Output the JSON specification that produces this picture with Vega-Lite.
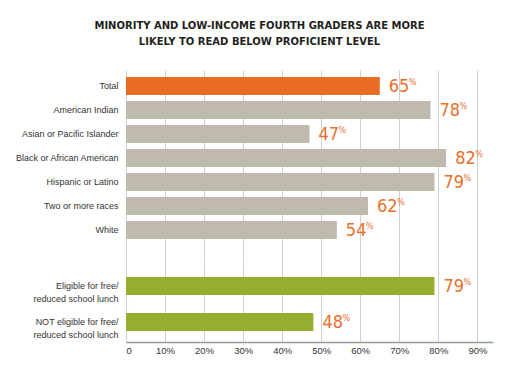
{
  "$schema": "https://vega.github.io/schema/vega-lite/v6.json",
  "background": "white",
  "padding": {"left": 14, "top": 20, "right": 5, "bottom": 5},
  "title": {
    "text": ["MINORITY AND LOW-INCOME FOURTH GRADERS ARE MORE", "LIKELY TO READ BELOW PROFICIENT LEVEL"],
    "font": "DejaVu Sans",
    "fontSize": 10,
    "fontWeight": "bold",
    "color": "#231f20",
    "lineHeight": 16.5,
    "anchor": "middle",
    "dx": 6,
    "offset": 23
  },
  "datasets": {
    "d": [
      {"category": "Total", "pct": 65, "type": "total", "panel": "race"},
      {"category": "American Indian", "pct": 78, "type": "race", "panel": "race"},
      {"category": "Asian or Pacific Islander", "pct": 47, "type": "race", "panel": "race"},
      {"category": "Black or African American", "pct": 82, "type": "race", "panel": "race"},
      {"category": "Hispanic or Latino", "pct": 79, "type": "race", "panel": "race"},
      {"category": "Two or more races", "pct": 62, "type": "race", "panel": "race"},
      {"category": "White", "pct": 54, "type": "race", "panel": "race"},
      {"category": "Eligible for free/reduced school lunch", "pct": 79, "type": "lunch", "panel": "lunch"},
      {"category": "NOT eligible for free/reduced school lunch", "pct": 48, "type": "lunch", "panel": "lunch"}
    ]
  },
  "spacing": 0,
  "vconcat": [
    {
      "width": 367,
      "height": 189,
      "data": {"name": "d"},
      "transform": [{"filter": "datum.panel == 'race'"}],
      "encoding": {
        "y": {
          "field": "category", "type": "nominal", "sort": null,
          "scale": {"paddingInner": 0.25, "paddingOuter": 0.5625, "align": 0.26},
          "axis": {"title": null, "ticks": false, "domain": false, "labelFont": "Liberation Sans", "labelFontSize": 9, "labelColor": "#333333", "labelPadding": 8, "labelLimit": 200, "minExtent": 112, "maxExtent": 112}
        },
        "x": {
          "field": "pct", "type": "quantitative",
          "scale": {"domain": [0, 94], "nice": false},
          "axis": {"title": null, "labels": false, "ticks": false, "domain": false, "values": [0, 10, 20, 30, 40, 50, 60, 70, 80, 90], "grid": true, "gridColor": "#d0d0d0", "gridWidth": 1}
        }
      },
      "layer": [
        {
          "mark": {"type": "bar"},
          "encoding": {
            "color": {"field": "type", "type": "nominal", "scale": {"domain": ["total", "race", "lunch"], "range": ["#E86C22", "#C0B9AE", "#94AF2D"]}, "legend": null}
          }
        },
        {
          "mark": {"type": "text", "align": "left", "baseline": "middle", "dx": 9, "dy": 1, "font": "'DejaVu Sans Condensed', Roboto, sans-serif", "fontSize": 18, "color": "#E8702A"},
          "encoding": {"text": {"field": "pct", "type": "quantitative"}}
        },
        {
          "mark": {"type": "text", "align": "left", "baseline": "middle", "dx": 29, "dy": -4, "font": "'DejaVu Sans Condensed', Roboto, sans-serif", "fontSize": 9, "color": "#E8702A"},
          "encoding": {"text": {"value": "%"}}
        }
      ]
    },
    {
      "width": 367,
      "height": 83,
      "data": {"name": "d"},
      "transform": [{"filter": "datum.panel == 'lunch'"}],
      "encoding": {
        "y": {
          "field": "category", "type": "nominal", "sort": null,
          "scale": {"paddingInner": 0.5, "paddingOuter": 0.403, "align": 0.62},
          "axis": {"title": null, "ticks": false, "domain": false, "labelFont": "Liberation Sans", "labelFontSize": 9, "labelColor": "#333333", "labelPadding": 8, "labelLimit": 200, "labelLineHeight": 13, "minExtent": 112, "maxExtent": 112,
            "labelExpr": "indexof(datum.label, '/') > 0 ? [substring(datum.label, 0, indexof(datum.label, '/') + 1), substring(datum.label, indexof(datum.label, '/') + 1)] : datum.label"}
        },
        "x": {
          "field": "pct", "type": "quantitative",
          "scale": {"domain": [0, 94], "nice": false},
          "axis": {"title": null, "ticks": false, "domain": true, "domainColor": "#999999", "domainWidth": 1.5, "values": [0, 10, 20, 30, 40, 50, 60, 70, 80, 90], "grid": true, "gridColor": "#d0d0d0", "gridWidth": 1,
            "labelExpr": "datum.value == 0 ? '0' : datum.value + '%'", "labelFont": "Liberation Sans", "labelFontSize": 9.5, "labelColor": "#333333", "labelPadding": 3}
        }
      },
      "layer": [
        {
          "mark": {"type": "bar"},
          "encoding": {
            "color": {"field": "type", "type": "nominal", "scale": {"domain": ["total", "race", "lunch"], "range": ["#E86C22", "#C0B9AE", "#94AF2D"]}, "legend": null}
          }
        },
        {
          "mark": {"type": "text", "align": "left", "baseline": "middle", "dx": 9, "dy": 1, "font": "'DejaVu Sans Condensed', Roboto, sans-serif", "fontSize": 18, "color": "#E8702A"},
          "encoding": {"text": {"field": "pct", "type": "quantitative"}}
        },
        {
          "mark": {"type": "text", "align": "left", "baseline": "middle", "dx": 29, "dy": -4, "font": "'DejaVu Sans Condensed', Roboto, sans-serif", "fontSize": 9, "color": "#E8702A"},
          "encoding": {"text": {"value": "%"}}
        }
      ]
    }
  ],
  "config": {"view": {"stroke": null}}
}
